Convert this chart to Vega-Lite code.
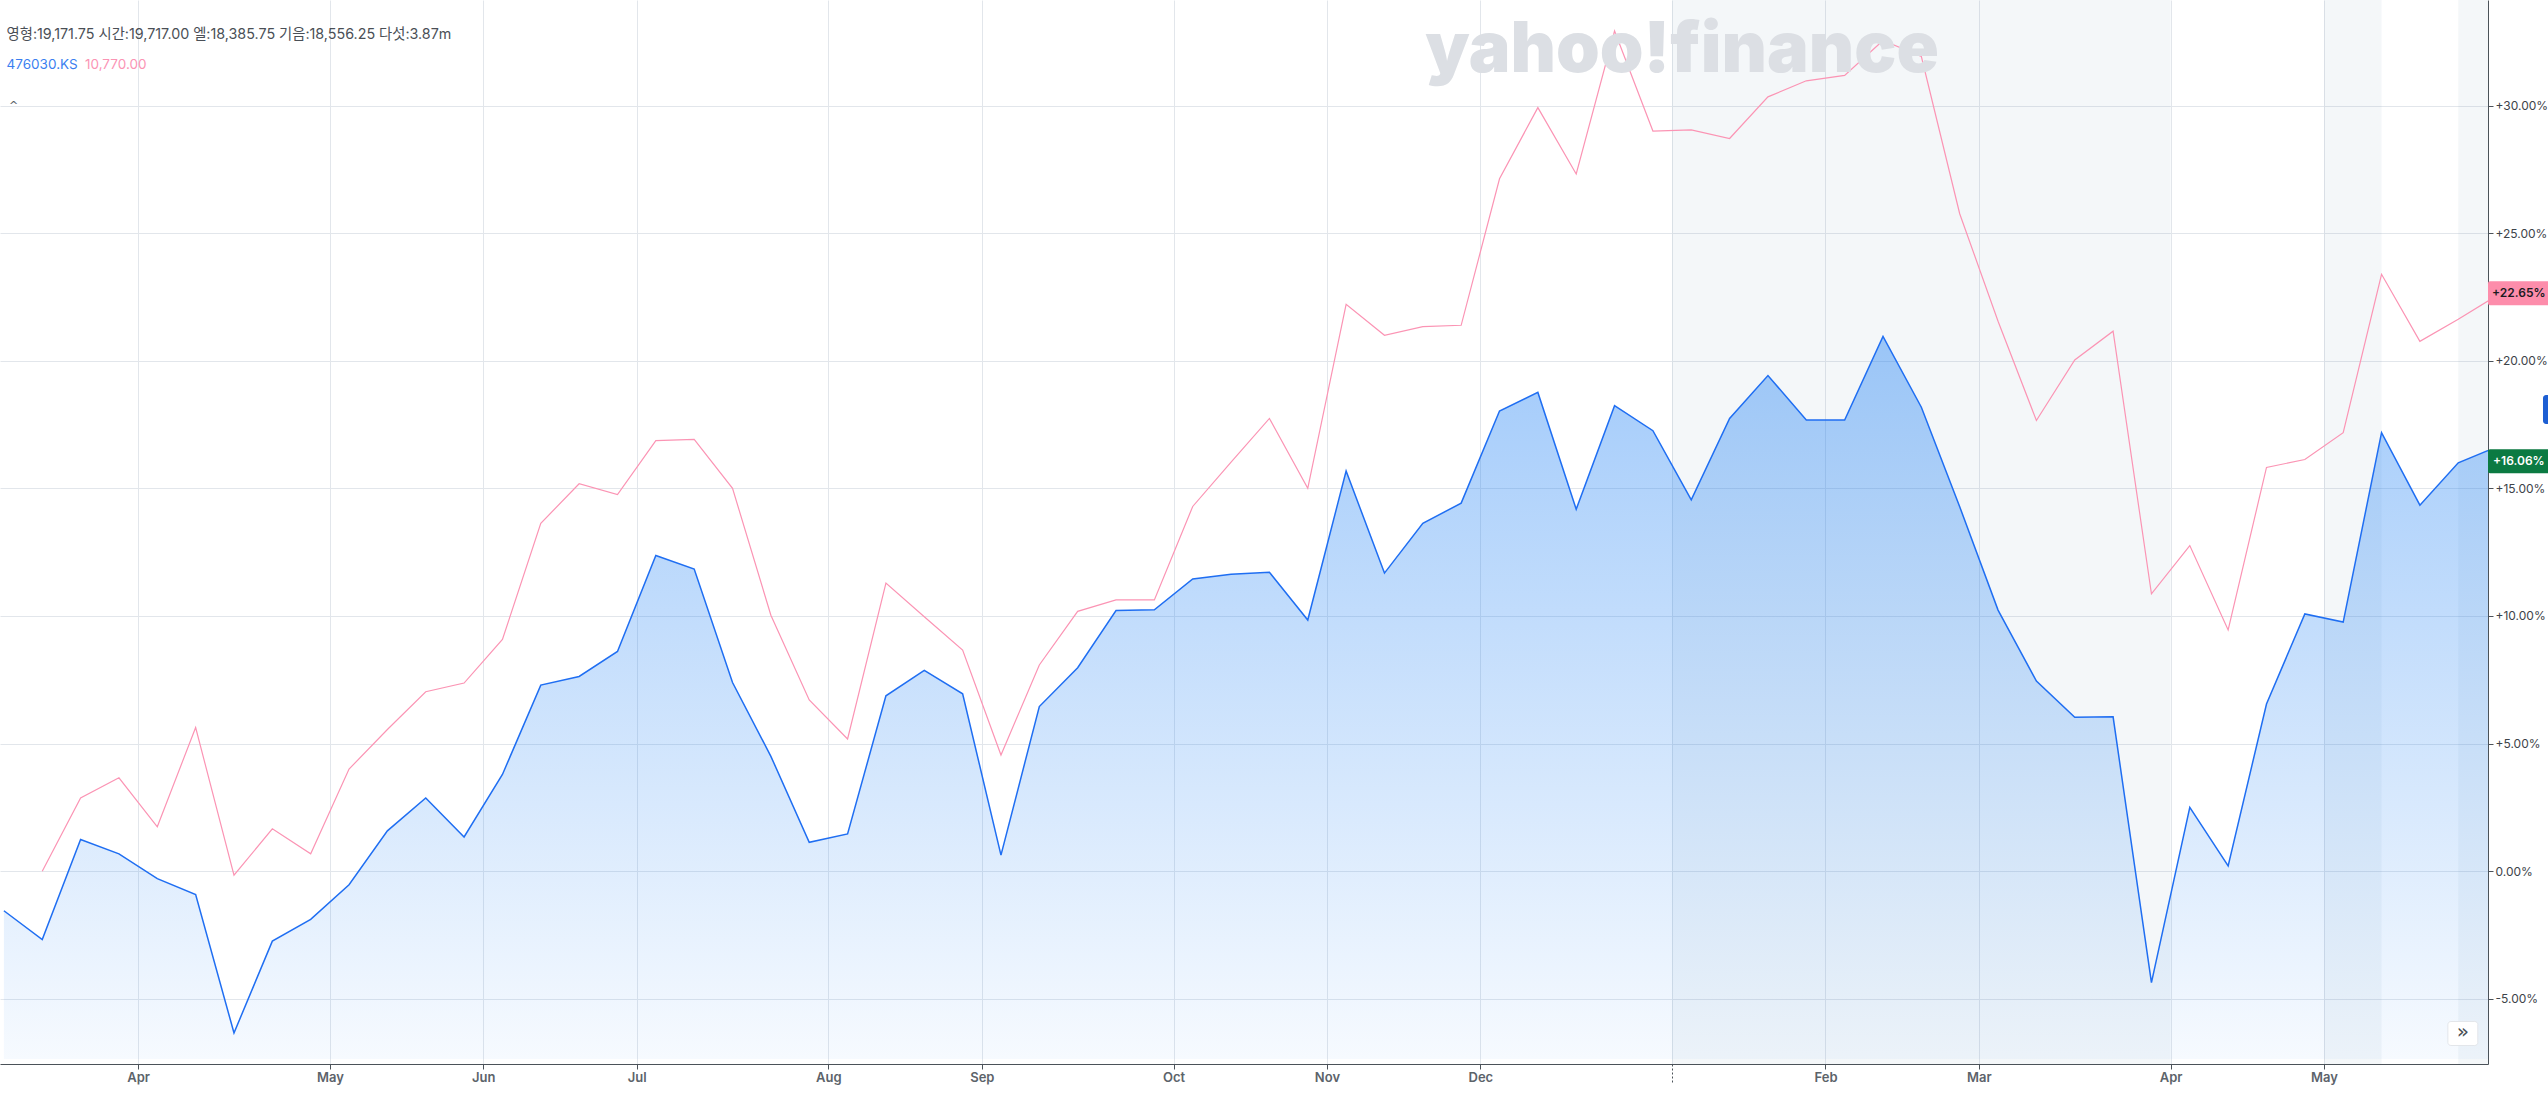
{
  "$schema": "https://vega.github.io/schema/vega-lite/v6.json",
  "width": 2488,
  "height": 1064,
  "autosize": {"type": "none"},
  "padding": {"left": 0, "top": 0, "right": 60, "bottom": 32},
  "background": "#ffffff",
  "config": {
    "view": {"stroke": null},
    "axis": {"domainColor": "#4b5259", "tickColor": "#4b5259", "gridColor": "#e2e6eb", "gridWidth": 1, "labelFont": "Inter", "labelFontSize": 13, "title": null},
    "axisX": {"labelColor": "#5c636a", "labelFontWeight": 600, "tickSize": 5, "labelPadding": 2, "labelBaseline": "top", "labelLineHeight": 16},
    "axisY": {"labelColor": "#3d4349", "labelFontSize": 12, "tickSize": 5, "labelPadding": 2, "labelBaseline": "middle"}
  },
  "datasets": {
    "weekly": [
      {"i": 0, "week": "2024-03-04", "etf": -1.55, "compare": null},
      {"i": 1, "week": "2024-03-11", "etf": -2.68, "compare": 0.0},
      {"i": 2, "week": "2024-03-18", "etf": 1.24, "compare": 2.87},
      {"i": 3, "week": "2024-03-25", "etf": 0.68, "compare": 3.66},
      {"i": 4, "week": "2024-04-01", "etf": -0.29, "compare": 1.74},
      {"i": 5, "week": "2024-04-08", "etf": -0.92, "compare": 5.63},
      {"i": 6, "week": "2024-04-15", "etf": -6.34, "compare": -0.16},
      {"i": 7, "week": "2024-04-22", "etf": -2.74, "compare": 1.66},
      {"i": 8, "week": "2024-04-29", "etf": -1.89, "compare": 0.68},
      {"i": 9, "week": "2024-05-06", "etf": -0.53, "compare": 4.0},
      {"i": 10, "week": "2024-05-13", "etf": 1.58, "compare": 5.55},
      {"i": 11, "week": "2024-05-20", "etf": 2.87, "compare": 7.03},
      {"i": 12, "week": "2024-05-27", "etf": 1.34, "compare": 7.37},
      {"i": 13, "week": "2024-06-03", "etf": 3.79, "compare": 9.08},
      {"i": 14, "week": "2024-06-10", "etf": 7.29, "compare": 13.63},
      {"i": 15, "week": "2024-06-17", "etf": 7.63, "compare": 15.18},
      {"i": 16, "week": "2024-06-24", "etf": 8.61, "compare": 14.76},
      {"i": 17, "week": "2024-07-01", "etf": 12.37, "compare": 16.87},
      {"i": 18, "week": "2024-07-08", "etf": 11.84, "compare": 16.92},
      {"i": 19, "week": "2024-07-15", "etf": 7.39, "compare": 15.0},
      {"i": 20, "week": "2024-07-22", "etf": 4.5, "compare": 10.03},
      {"i": 21, "week": "2024-07-29", "etf": 1.13, "compare": 6.71},
      {"i": 22, "week": "2024-08-05", "etf": 1.46, "compare": 5.18},
      {"i": 23, "week": "2024-08-12", "etf": 6.87, "compare": 11.29},
      {"i": 24, "week": "2024-08-19", "etf": 7.87, "compare": 9.97},
      {"i": 25, "week": "2024-08-26", "etf": 6.95, "compare": 8.66},
      {"i": 26, "week": "2024-09-02", "etf": 0.63, "compare": 4.55},
      {"i": 27, "week": "2024-09-09", "etf": 6.45, "compare": 8.08},
      {"i": 28, "week": "2024-09-16", "etf": 7.97, "compare": 10.18},
      {"i": 29, "week": "2024-09-23", "etf": 10.21, "compare": 10.63},
      {"i": 30, "week": "2024-09-30", "etf": 10.24, "compare": 10.63},
      {"i": 31, "week": "2024-10-07", "etf": 11.45, "compare": 14.29},
      {"i": 32, "week": "2024-10-14", "etf": 11.63, "compare": 16.03},
      {"i": 33, "week": "2024-10-21", "etf": 11.71, "compare": 17.74},
      {"i": 34, "week": "2024-10-28", "etf": 9.84, "compare": 15.0},
      {"i": 35, "week": "2024-11-04", "etf": 15.68, "compare": 22.21},
      {"i": 36, "week": "2024-11-11", "etf": 11.68, "compare": 21.0},
      {"i": 37, "week": "2024-11-18", "etf": 13.63, "compare": 21.34},
      {"i": 38, "week": "2024-11-25", "etf": 14.42, "compare": 21.39},
      {"i": 39, "week": "2024-12-02", "etf": 18.03, "compare": 27.13},
      {"i": 40, "week": "2024-12-09", "etf": 18.76, "compare": 29.92},
      {"i": 41, "week": "2024-12-16", "etf": 14.18, "compare": 27.32},
      {"i": 42, "week": "2024-12-23", "etf": 18.24, "compare": 32.92},
      {"i": 43, "week": "2024-12-30", "etf": 17.26, "compare": 29.0},
      {"i": 44, "week": "2025-01-06", "etf": 14.55, "compare": 29.05},
      {"i": 45, "week": "2025-01-13", "etf": 17.74, "compare": 28.71},
      {"i": 46, "week": "2025-01-20", "etf": 19.42, "compare": 30.34},
      {"i": 47, "week": "2025-01-27", "etf": 17.68, "compare": 30.97},
      {"i": 48, "week": "2025-02-03", "etf": 17.68, "compare": 31.18},
      {"i": 49, "week": "2025-02-10", "etf": 20.95, "compare": 32.55},
      {"i": 50, "week": "2025-02-17", "etf": 18.18, "compare": 31.92},
      {"i": 51, "week": "2025-02-24", "etf": 14.28, "compare": 25.76},
      {"i": 52, "week": "2025-03-03", "etf": 10.23, "compare": 21.55},
      {"i": 53, "week": "2025-03-10", "etf": 7.45, "compare": 17.66},
      {"i": 54, "week": "2025-03-17", "etf": 6.03, "compare": 20.03},
      {"i": 55, "week": "2025-03-24", "etf": 6.05, "compare": 21.16},
      {"i": 56, "week": "2025-03-31", "etf": -4.37, "compare": 10.87},
      {"i": 57, "week": "2025-04-07", "etf": 2.5, "compare": 12.76},
      {"i": 58, "week": "2025-04-14", "etf": 0.21, "compare": 9.45},
      {"i": 59, "week": "2025-04-21", "etf": 6.55, "compare": 15.82},
      {"i": 60, "week": "2025-04-28", "etf": 10.08, "compare": 16.13},
      {"i": 61, "week": "2025-05-05", "etf": 9.76, "compare": 17.18},
      {"i": 62, "week": "2025-05-12", "etf": 17.18, "compare": 23.39},
      {"i": 63, "week": "2025-05-19", "etf": 14.34, "compare": 20.76},
      {"i": 64, "week": "2025-05-26", "etf": 16.0, "compare": 21.63},
      {"i": 65, "week": "2025-06-02", "etf": 16.62, "compare": 22.55}
    ],
    "periods": [
      {"from": 43.5, "to": 56.5},
      {"from": 60.5, "to": 62},
      {"from": 64, "to": 65}
    ],
    "tags": [
      {"series": "10,770.00", "last": 22.65, "text": "+22.65%"},
      {"series": "476030.KS", "last": 16.06, "text": "+16.06%"}
    ]
  },
  "layer": [
    {
      "data": {"name": "periods"},
      "mark": {"type": "rect", "color": "#6f8db0", "opacity": 0.075, "clip": true},
      "encoding": {
        "x": {
          "field": "from", "type": "quantitative",
          "scale": {"domain": [-0.1017, 64.776], "nice": false, "zero": false},
          "axis": {
            "orient": "bottom",
            "grid": true,
            "values": [3.5, 8.5, 12.5, 16.5, 21.5, 25.5, 30.5, 34.5, 38.5, 43.5, 47.5, 51.5, 56.5, 60.5],
            "labelExpr": "[['Apr'],['May'],['Jun'],['Jul'],['Aug'],['Sep'],['Oct'],['Nov'],['Dec'],['','2025'],['Feb'],['Mar'],['Apr'],['May']][indexof([3.5,8.5,12.5,16.5,21.5,25.5,30.5,34.5,38.5,43.5,47.5,51.5,56.5,60.5], datum.value)]",
            "tickSize": {"condition": {"test": "datum.value == 43.5", "value": 18}, "value": 5},
            "tickDash": {"condition": {"test": "datum.value == 43.5", "value": [2, 2]}, "value": []},
            "labelOverlap": false,
            "labelFlush": false
          }
        },
        "x2": {"field": "to"}
      }
    },
    {
      "data": {"name": "weekly"},
      "mark": {
        "type": "area",
        "clip": true,
        "color": {
          "gradient": "linear", "x1": 0, "y1": 0, "x2": 0, "y2": 1,
          "stops": [
            {"offset": 0, "color": "rgba(30,128,244,0.42)"},
            {"offset": 1, "color": "rgba(30,128,244,0.04)"}
          ]
        }
      },
      "encoding": {
        "x": {"field": "i", "type": "quantitative"},
        "y": {
          "field": "etf", "type": "quantitative",
          "scale": {"domain": [-7.36, 33.94], "nice": false, "zero": false},
          "axis": {
            "orient": "right",
            "grid": true,
            "values": [-5, 0, 5, 10, 15, 20, 25, 30],
            "labelExpr": "(datum.value > 0 ? '+' : (datum.value < 0 ? '-' : '')) + format(abs(datum.value), '.2f') + '%'"
          }
        },
        "y2": {"datum": -7.36}
      }
    },
    {
      "data": {"name": "weekly"},
      "mark": {"type": "line", "clip": true, "color": "#1f6ef2", "strokeWidth": 1.5},
      "encoding": {
        "x": {"field": "i", "type": "quantitative"},
        "y": {"field": "etf", "type": "quantitative"}
      }
    },
    {
      "data": {"name": "weekly"},
      "mark": {"type": "line", "clip": true, "color": "#fb94b4", "strokeWidth": 1.2},
      "encoding": {
        "x": {"field": "i", "type": "quantitative"},
        "y": {"field": "compare", "type": "quantitative"}
      }
    },
    {
      "data": {"name": "tags"},
      "mark": {"type": "bar", "orient": "horizontal", "size": 24, "cornerRadius": 2},
      "encoding": {
        "x": {"datum": 64.776, "type": "quantitative"},
        "x2": {"datum": 66.4},
        "y": {"field": "last", "type": "quantitative"},
        "color": {"field": "series", "type": "nominal", "legend": null, "scale": {"domain": ["10,770.00", "476030.KS"], "range": ["#fd8dab", "#0b7a42"]}}
      }
    },
    {
      "data": {"name": "tags"},
      "mark": {"type": "text", "font": "Inter", "fontSize": 12, "fontWeight": 600, "align": "center", "baseline": "middle"},
      "encoding": {
        "x": {"datum": 65.58, "type": "quantitative"},
        "y": {"field": "last", "type": "quantitative"},
        "text": {"field": "text"},
        "fill": {"field": "series", "type": "nominal", "legend": null, "scale": {"domain": ["10,770.00", "476030.KS"], "range": ["#1b1b1f", "#ffffff"]}}
      }
    },
    {
      "data": {"values": [{"last": 18.09}]},
      "mark": {"type": "bar", "orient": "horizontal", "size": 29, "cornerRadius": 3, "color": "#1d5fd3"},
      "encoding": {
        "x": {"datum": 66.21, "type": "quantitative"},
        "x2": {"datum": 67.5},
        "y": {"field": "last", "type": "quantitative"}
      }
    },
    {
      "data": {"values": [{"label": "yahoo!finance"}]},
      "mark": {"type": "text", "font": "Inter", "fontSize": 70, "fontWeight": 900, "color": "#dcdfe4", "align": "center", "baseline": "alphabetic"},
      "encoding": {
        "x": {"datum": 43.76, "type": "quantitative"},
        "y": {"datum": 31.3, "type": "quantitative"},
        "text": {"field": "label"}
      }
    },
    {
      "data": {"values": [{"label": "영형:19,171.75  시간:19,717.00  엘:18,385.75  기음:18,556.25  다섯:3.87m"}]},
      "mark": {"type": "text", "font": "Inter, Noto Sans CJK KR", "fontSize": 14.3, "color": "#4a4f56", "align": "left", "baseline": "middle"},
      "encoding": {
        "x": {"datum": 0.07, "type": "quantitative"},
        "y": {"datum": 32.75, "type": "quantitative"},
        "text": {"field": "label"}
      }
    },
    {
      "data": {"values": [{"label": "476030.KS"}]},
      "mark": {"type": "text", "font": "Inter", "fontSize": 13.5, "color": "#3b7ff0", "align": "left", "baseline": "middle"},
      "encoding": {
        "x": {"datum": 0.07, "type": "quantitative"},
        "y": {"datum": 31.58, "type": "quantitative"},
        "text": {"field": "label"}
      }
    },
    {
      "data": {"values": [{"label": "10,770.00"}]},
      "mark": {"type": "text", "font": "Inter", "fontSize": 13.5, "color": "#fb94b4", "align": "left", "baseline": "middle"},
      "encoding": {
        "x": {"datum": 2.115, "type": "quantitative"},
        "y": {"datum": 31.58, "type": "quantitative"},
        "text": {"field": "label"}
      }
    },
    {
      "data": {"values": [{"label": "^"}]},
      "mark": {"type": "text", "font": "DejaVu Sans", "fontSize": 11, "color": "#555b62", "align": "center", "baseline": "middle"},
      "encoding": {
        "x": {"datum": 0.256, "type": "quantitative"},
        "y": {"datum": 30.0, "type": "quantitative"},
        "text": {"field": "label"}
      }
    },
    {
      "data": {"values": [{"label": "»"}]},
      "mark": {"type": "rect", "color": "#ffffff", "stroke": "#e3e6ea", "strokeWidth": 1, "cornerRadius": 3},
      "encoding": {
        "x": {"datum": 63.73, "type": "quantitative"},
        "x2": {"datum": 64.51},
        "y": {"datum": -5.89, "type": "quantitative"},
        "y2": {"datum": -6.83}
      }
    },
    {
      "data": {"values": [{"label": "»"}]},
      "mark": {"type": "text", "font": "DejaVu Sans", "fontSize": 20, "color": "#4a4f56", "align": "center", "baseline": "middle"},
      "encoding": {
        "x": {"datum": 64.12, "type": "quantitative"},
        "y": {"datum": -6.3, "type": "quantitative"},
        "text": {"field": "label"}
      }
    }
  ]
}
